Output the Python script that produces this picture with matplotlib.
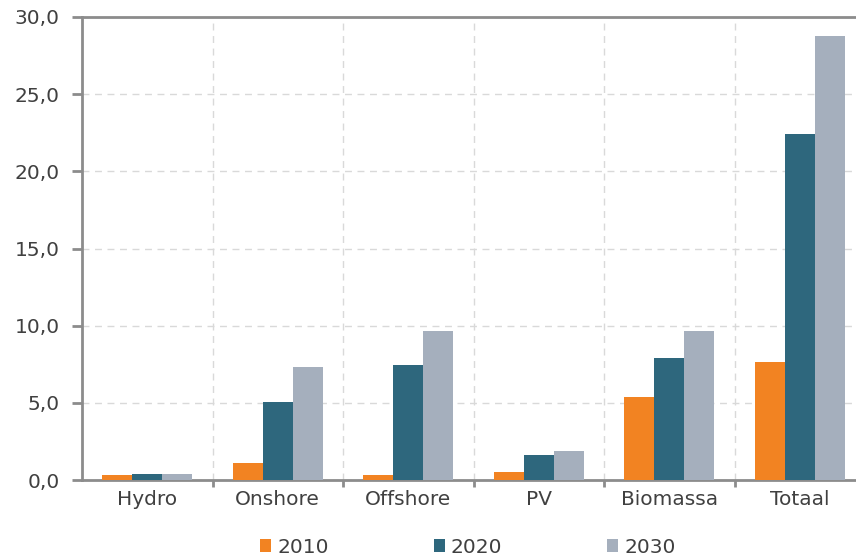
#!/usr/bin/env python3

import matplotlib
matplotlib.use("Agg")
import matplotlib.pyplot as plt
from matplotlib.ticker import FuncFormatter, FixedLocator
from matplotlib.patches import Patch
import numpy as np

categories = ["Hydro", "Onshore", "Offshore", "PV", "Biomassa", "Totaal"]
years = ["2010", "2020", "2030"]
values_2010 = [0.3, 1.1, 0.3, 0.5, 5.4, 7.65]
values_2020 = [0.4, 5.05, 7.45, 1.6, 7.9, 22.4]
values_2030 = [0.4, 7.3, 9.65, 1.9, 9.65, 28.75]
colors = ["#F28322", "#2E677D", "#A5AFBD"]

TXT = "#404040"
SPINE = "#8C8C8C"
FS = 14.5

plt.rcParams["font.family"] = ["DejaVu Sans"]

fig = plt.figure(figsize=(8.56, 5.58), dpi=100)
ax = fig.add_axes([82 / 856, 78 / 558, 6 * 130.5 / 856, 463 / 558])

x = np.arange(len(categories))
w = 0.23
for i, vals in enumerate([values_2010, values_2020, values_2030]):
    ax.bar(x + (i - 1) * w, vals, width=w, color=colors[i], zorder=3)

ax.set_xlim(-0.5, len(categories) - 0.5)
ax.set_ylim(0, 30)
ax.set_yticks(np.arange(0, 31, 5))
ax.yaxis.set_major_formatter(FuncFormatter(lambda v, p: f"{v:.1f}".replace(".", ",")))
ax.set_xticks(x)
ax.set_xticklabels(categories)
ax.xaxis.set_minor_locator(FixedLocator(np.arange(0.5, len(categories) - 0.5, 1)))

ax.tick_params(axis="x", which="major", length=0, pad=7, labelsize=FS, labelcolor=TXT)
ax.tick_params(axis="x", which="minor", length=5, width=2, color=SPINE)
ax.tick_params(axis="y", length=7, width=2, color=SPINE, pad=9, labelsize=FS, labelcolor=TXT)

ax.grid(axis="y", which="major", linestyle=(0, (5, 4)), color="#D9D9D9", linewidth=1, zorder=0)
ax.grid(axis="x", which="minor", linestyle=(0, (5, 4)), color="#D9D9D9", linewidth=1, zorder=0)

for s in ["left", "bottom", "top"]:
    ax.spines[s].set_color(SPINE)
    ax.spines[s].set_linewidth(2)
ax.spines["right"].set_visible(False)

handles = [Patch(facecolor=c, label=y) for c, y in zip(colors, years)]
fig.legend(handles=handles, loc="lower center", bbox_to_anchor=(468 / 856, -0.03), ncol=3,
           frameon=False, fontsize=FS, labelcolor=TXT, handlelength=0.55, handleheight=0.55,
           handletextpad=0.3, columnspacing=5.2)

fig.savefig("out.png", dpi=100)
